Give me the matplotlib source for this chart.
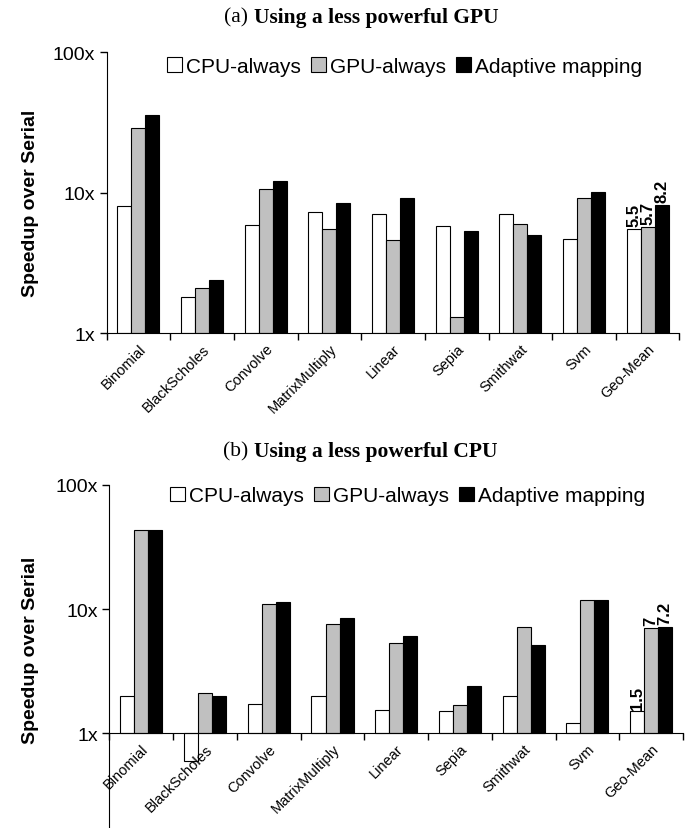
import matplotlib.pyplot as plt
import numpy as np
from matplotlib.patches import Patch
from matplotlib.ticker import FixedLocator, NullLocator

plt.rcParams['font.family'] = ['Liberation Sans', 'DejaVu Sans']

# Benchmarks
benchmarks = ["Binomial", "BlackScholes", "Convolve", "MatrixMultiply", "Linear",
              "Sepia", "Smithwat", "Svm", "Geo-Mean"]

# (a) less powerful GPU
cpu_a = [8.0, 1.8, 5.9, 7.3, 7.0, 5.8, 7.0, 4.7, 5.5]
gpu_a = [29.0, 2.1, 10.6, 5.5, 4.6, 1.3, 6.0, 9.1, 5.7]
adapt_a = [35.9, 2.4, 12.2, 8.5, 9.2, 5.35, 5.0, 10.1, 8.2]
labels_a = ["5.5", "5.7", "8.2"]

# (b) less powerful CPU
cpu_b = [2.0, 0.6, 1.72, 2.0, 1.53, 1.5, 2.0, 1.2, 1.5]
gpu_b = [43.5, 2.1, 10.9, 7.6, 5.3, 1.7, 7.2, 11.8, 7.0]
adapt_b = [43.0, 2.0, 11.3, 8.4, 6.1, 2.4, 5.1, 11.8, 7.2]
labels_b = ["1.5", "7", "7.2"]

series_names = ["CPU-always", "GPU-always", "Adaptive mapping"]
colors = ["white", "#c0c0c0", "black"]

fig = plt.figure(figsize=(6.86, 8.29), dpi=100)
ax1 = fig.add_axes([0.1555, 0.5971, 0.835, 0.3386])
ax2 = fig.add_axes([0.1596, 0.0, 0.836, 0.4141])


def draw(ax, cpu, gpu, adapt, value_labels, ymin):
    n = len(benchmarks)
    x = np.arange(n) + 0.5
    w = 0.22
    for off, vals, c in zip([-w, 0, w], [cpu, gpu, adapt], colors):
        vals = np.array(vals)
        ax.bar(x + off, vals - 1, bottom=1, width=w, color=c,
               edgecolor="black", linewidth=0.8)
    # labels on geo-mean bars
    for off, vals, txt in zip([-w, 0, w], [cpu, gpu, adapt], value_labels):
        ax.annotate(txt, (x[-1] + off, vals[-1]), xytext=(0, 2),
                    textcoords="offset points", rotation=90, ha="center",
                    va="bottom", fontsize=12, fontweight="bold")

    ax.set_yscale("log")
    ax.set_ylim(ymin, 100)
    ax.set_xlim(0, n)
    ax.spines["top"].set_visible(False)
    ax.spines["right"].set_visible(False)
    ax.spines["bottom"].set_position(("data", 1))

    ax.yaxis.set_major_locator(FixedLocator([1, 10, 100]))
    ax.yaxis.set_minor_locator(NullLocator())
    ax.set_yticklabels(["1x", "10x", "100x"], fontsize=14)
    ax.tick_params(axis="y", direction="out", length=5, width=1)

    ax.set_xticks(np.arange(n + 1))
    ax.set_xticklabels([])
    ax.set_xticks(x, minor=True)
    ax.set_xticklabels(benchmarks, minor=True, rotation=45, ha="right",
                       rotation_mode="anchor", fontsize=10.5)
    ax.tick_params(axis="x", which="major", direction="out", length=5, width=1)
    ax.tick_params(axis="x", which="minor", length=0, pad=6)

    handles = [Patch(facecolor=c, edgecolor="black", linewidth=0.8) for c in colors]
    ax.legend(handles, series_names, loc="upper center", bbox_to_anchor=(0.52, 1.05),
              ncol=3, frameon=False, fontsize=15, handlelength=0.7, handleheight=0.7,
              handletextpad=0.2, columnspacing=0.5)


draw(ax1, cpu_a, gpu_a, adapt_a, labels_a, 1)
draw(ax2, cpu_b, gpu_b, adapt_b, labels_b, 0.173)

# titles
for y, tag, rest in [(0.978, "(a) ", "Using a less powerful GPU"),
                     (0.4548, "(b) ", "Using a less powerful CPU")]:
    fig.text(0.37, y, tag, ha="right", va="center", fontsize=15.5,
             family="Liberation Serif")
    fig.text(0.37, y, rest, ha="left", va="center", fontsize=15.5,
             family="Liberation Serif", fontweight="bold")

fig.text(0.044, 0.755, "Speedup over Serial", rotation=90, ha="center",
         va="center", fontsize=14, fontweight="bold")
fig.text(0.044, 0.216, "Speedup over Serial", rotation=90, ha="center",
         va="center", fontsize=14, fontweight="bold")

fig.savefig("out.png", dpi=100)
